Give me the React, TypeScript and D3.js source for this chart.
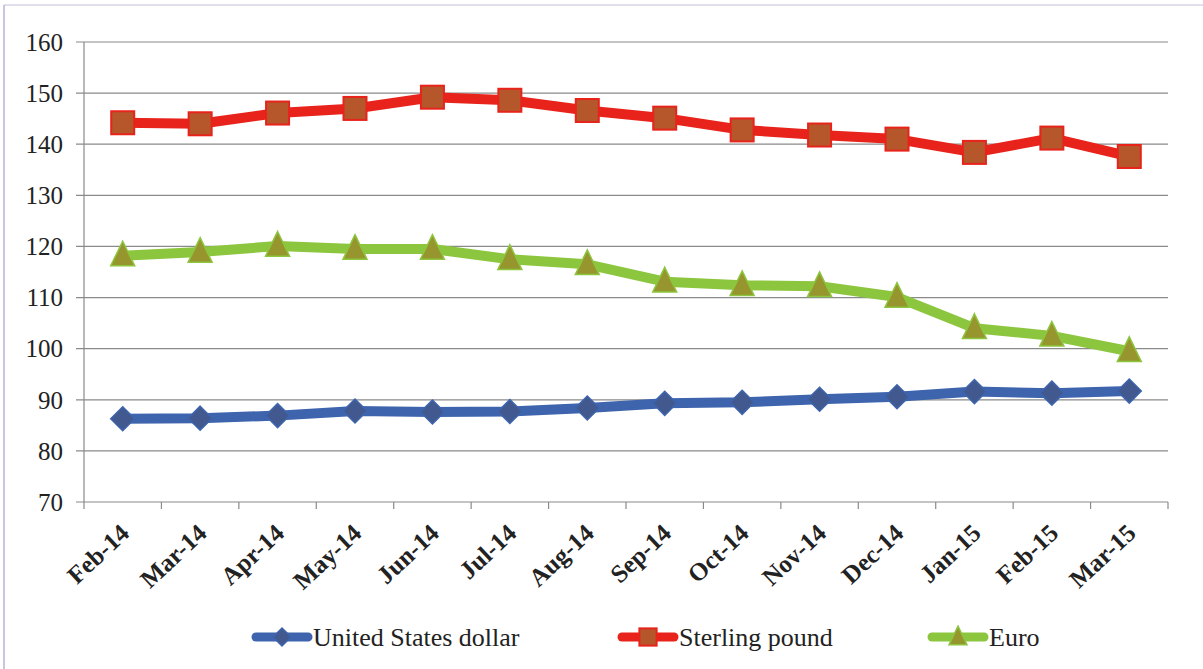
import React from "react";
import * as d3 from "d3";

const categories = ["Feb-14","Mar-14","Apr-14","May-14","Jun-14","Jul-14","Aug-14","Sep-14","Oct-14","Nov-14","Dec-14","Jan-15","Feb-15","Mar-15"];
const usd = [86.3,86.4,86.9,87.8,87.6,87.7,88.4,89.3,89.5,90.1,90.6,91.6,91.3,91.7];
const gbp = [144.2,144.0,146.1,147.0,149.2,148.6,146.6,145.1,142.8,141.8,141.0,138.4,141.2,137.6];
const eur = [118.2,118.9,120.1,119.5,119.5,117.5,116.5,113.1,112.4,112.2,110.1,104.0,102.5,99.5];
const yTicks = [70,80,90,100,110,120,130,140,150,160];
const seriesNames = ["United States dollar","Sterling pound","Euro"];

const W = 1203, H = 669;
const left = 84, right = 1168, top = 42, bottom = 502;

export default function App() {
  const x = d3.scaleBand<string>().domain(categories).range([left, right]);
  const y = d3.scaleLinear().domain([70, 160]).range([bottom, top]);
  const cx = (c: string) => (x(c) as number) + x.bandwidth() / 2;
  const line = d3.line<number>().x((_, i) => cx(categories[i])).y(d => y(d));
  const fontStyle = { fontFamily: "Liberation Serif, Times New Roman, serif" };

  const diamond = (px: number, py: number, r: number) =>
    `M${px},${py - r}L${px + r},${py}L${px},${py + r}L${px - r},${py}Z`;
  const tri = (px: number, py: number, r: number) =>
    `M${px},${py - r * 1.2}L${px + r},${py + r * 0.85}L${px - r},${py + r * 0.85}Z`;

  const series = [
    { name: seriesNames[0], data: usd, line: "#3d64ad", mark: "diamond", fill: "#41598f", stroke: "#3d64ad" },
    { name: seriesNames[1], data: gbp, line: "#e8231b", mark: "square", fill: "#b5562b", stroke: "#e8231b" },
    { name: seriesNames[2], data: eur, line: "#8cc63e", mark: "tri", fill: "#96952e", stroke: "#8cc63e" },
  ];

  const marker = (m: string, px: number, py: number, fill: string, stroke: string, s = 1) => {
    if (m === "square") return <rect x={px - 11.5 * s} y={py - 11.5 * s} width={23 * s} height={23 * s} fill={fill} stroke={stroke} strokeWidth={2} />;
    if (m === "diamond") return <path d={diamond(px, py, 12 * s)} fill={fill} stroke={stroke} strokeWidth={1.5} />;
    return <path d={tri(px, py, 12 * s)} fill={fill} stroke={stroke} strokeWidth={1.5} />;
  };

  const legendX = [252, 618, 928];

  return (
    <svg width={W} height={H} style={{ display: "block", position: "absolute", left: 0, top: 0 }}>
      <rect x={0} y={0} width={W} height={H} fill="#fff" />
      <line x1={4} y1={5} x2={1203} y2={5} stroke="#d8d4e6" strokeWidth={1.5} />
      <line x1={4} y1={5} x2={4} y2={669} stroke="#b9b0d6" strokeWidth={1.5} />
      {yTicks.map(t => (
        <g key={t}>
          <line x1={left - 8} x2={right} y1={y(t)} y2={y(t)} stroke="#8a8a8a" strokeWidth={1.2} />
          <text x={63} y={y(t)} dy="0.35em" textAnchor="end" style={fontStyle} fontSize={25} fill="#222">{t}</text>
        </g>
      ))}
      <line x1={left} x2={left} y1={top} y2={bottom} stroke="#8a8a8a" strokeWidth={1.2} />
      {categories.map((c, i) => (
        <line key={"t" + i} x1={x(c) as number} x2={x(c) as number} y1={bottom} y2={bottom + 7} stroke="#8a8a8a" strokeWidth={1.2} />
      ))}
      <line x1={right} x2={right} y1={bottom} y2={bottom + 7} stroke="#8a8a8a" strokeWidth={1.2} />
      {categories.map(c => (
        <text key={c} transform={`translate(${cx(c) + 8},${bottom + 33}) rotate(-43)`} textAnchor="end"
          style={fontStyle} fontWeight="bold" fontSize={25} fill="#222">{c}</text>
      ))}
      {series.map(s => (
        <g key={s.name}>
          <path d={line(s.data) as string} fill="none" stroke={s.line} strokeWidth={10} strokeLinejoin="round" />
          {s.data.map((v, i) => <g key={i}>{marker(s.mark, cx(categories[i]), y(v), s.fill, s.stroke)}</g>)}
        </g>
      ))}
      {series.map((s, i) => (
        <g key={"l" + i}>
          <line x1={legendX[i] + 4} x2={legendX[i] + 56} y1={637} y2={637} stroke={s.line} strokeWidth={9} strokeLinecap="round" />
          {marker(s.mark, legendX[i] + 30, 637, s.fill, s.stroke, 0.75)}
          <text x={legendX[i] + 61} y={637} dy="0.35em" style={fontStyle} fontSize={26} fill="#222">{s.name}</text>
        </g>
      ))}
    </svg>
  );
}
